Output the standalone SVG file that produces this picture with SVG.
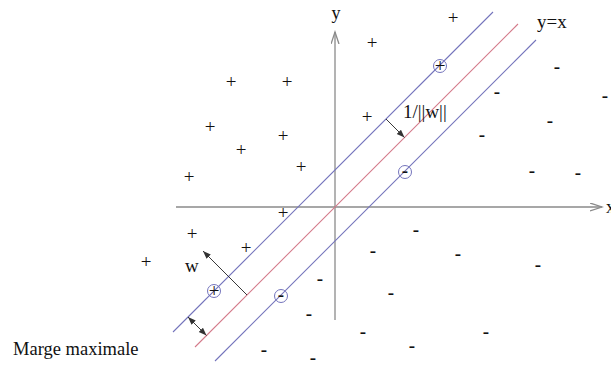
<svg xmlns="http://www.w3.org/2000/svg" width="611" height="365" viewBox="0 0 611 365">
<style>
.t{font-family:"Liberation Serif","Times New Roman",serif;fill:#111}
.pt{font-family:"Liberation Serif","Times New Roman",serif;font-size:19px;fill:#111;text-anchor:middle}
.mn{font-weight:bold}
.ax{stroke:#8a8a8a;stroke-width:1.3;fill:none}
.bl{stroke:#7474bc;stroke-width:1.1;fill:none}
.rd{stroke:#d47a8a;stroke-width:1.1;fill:none}
.ar{stroke:#222;stroke-width:0.9;fill:none}
.sv{stroke:#7474bc;stroke-width:1;fill:none}
</style>
<defs>
<marker id="axh" markerUnits="userSpaceOnUse" markerWidth="14" markerHeight="10" refX="12" refY="4" orient="auto">
<path d="M0,0 L12,4 L0,8" fill="none" stroke="#8a8a8a" stroke-width="1.3"/>
</marker>
<marker id="ah" markerUnits="userSpaceOnUse" markerWidth="10" markerHeight="8" refX="8" refY="3" orient="auto-start-reverse">
<path d="M0,0 L8,3 L0,6 Z" fill="#333" stroke="none"/>
</marker>
</defs>
<rect width="611" height="365" fill="#fff"/>
<g id="axes">
<line class="ax" x1="176" y1="207" x2="602" y2="207" marker-end="url(#axh)"/>
<line class="ax" x1="335" y1="320" x2="335" y2="32" marker-end="url(#axh)"/>
<text class="t" x="336" y="19" font-size="18" text-anchor="middle">y</text>
<text class="t" x="606" y="213" font-size="18">x</text>
</g>
<g id="connectors">
<line id="margin-upper" class="bl" x1="173" y1="332" x2="493" y2="12"/>
<line id="hyperplane" class="rd" x1="195" y1="347" x2="518" y2="24"/>
<line id="margin-lower" class="bl" x1="215" y1="361" x2="536" y2="40"/>
<line id="arrow-invw" class="ar" x1="386" y1="119" x2="404.5" y2="137.5" marker-end="url(#ah)"/>
<line id="arrow-w" class="ar" x1="247" y1="295" x2="203" y2="251" marker-end="url(#ah)"/>
<line id="arrow-margin" class="ar" x1="188" y1="317" x2="206.5" y2="335.5" marker-start="url(#ah)" marker-end="url(#ah)"/>
</g>
<g id="labels">
<text class="t" x="537" y="28" font-size="19">y=x</text>
<text class="t" x="403" y="118" font-size="19">1/||w||</text>
<text class="t" x="185" y="272" font-size="19">w</text>
<text class="t" x="13" y="355" font-size="18.5">Marge maximale</text>
</g>
<g id="support-vectors">
<circle class="sv" cx="440" cy="66" r="6.5"/><text class="pt" x="440" y="72">+</text>
<circle class="sv" cx="214" cy="291" r="6.5"/><text class="pt" x="214" y="297">+</text>
<circle class="sv" cx="405" cy="172" r="6.5"/><text class="pt mn" x="405" y="177">-</text>
<circle class="sv" cx="281" cy="296" r="6.5"/><text class="pt mn" x="281" y="301">-</text>
</g>
<g id="plus-points">
<text class="pt" x="231" y="88">+</text>
<text class="pt" x="287" y="88">+</text>
<text class="pt" x="210" y="133">+</text>
<text class="pt" x="283" y="142">+</text>
<text class="pt" x="241" y="156">+</text>
<text class="pt" x="189" y="183">+</text>
<text class="pt" x="301" y="173">+</text>
<text class="pt" x="453" y="24">+</text>
<text class="pt" x="372" y="49">+</text>
<text class="pt" x="367" y="123">+</text>
<text class="pt" x="283" y="219">+</text>
<text class="pt" x="192" y="240">+</text>
<text class="pt" x="246" y="254">+</text>
<text class="pt" x="146" y="268">+</text>
</g>
<g id="minus-points" class="mn">
<text class="pt" x="557" y="73">-</text>
<text class="pt" x="497" y="98">-</text>
<text class="pt" x="605" y="102">-</text>
<text class="pt" x="550" y="127">-</text>
<text class="pt" x="482" y="141">-</text>
<text class="pt" x="532" y="177">-</text>
<text class="pt" x="578" y="179">-</text>
<text class="pt" x="416" y="236">-</text>
<text class="pt" x="373" y="257">-</text>
<text class="pt" x="458" y="260">-</text>
<text class="pt" x="538" y="271">-</text>
<text class="pt" x="320" y="285">-</text>
<text class="pt" x="391" y="299">-</text>
<text class="pt" x="309" y="320">-</text>
<text class="pt" x="363" y="338">-</text>
<text class="pt" x="486" y="338">-</text>
<text class="pt" x="412" y="352">-</text>
<text class="pt" x="264" y="356">-</text>
<text class="pt" x="313" y="364">-</text>
</g>
</svg>
